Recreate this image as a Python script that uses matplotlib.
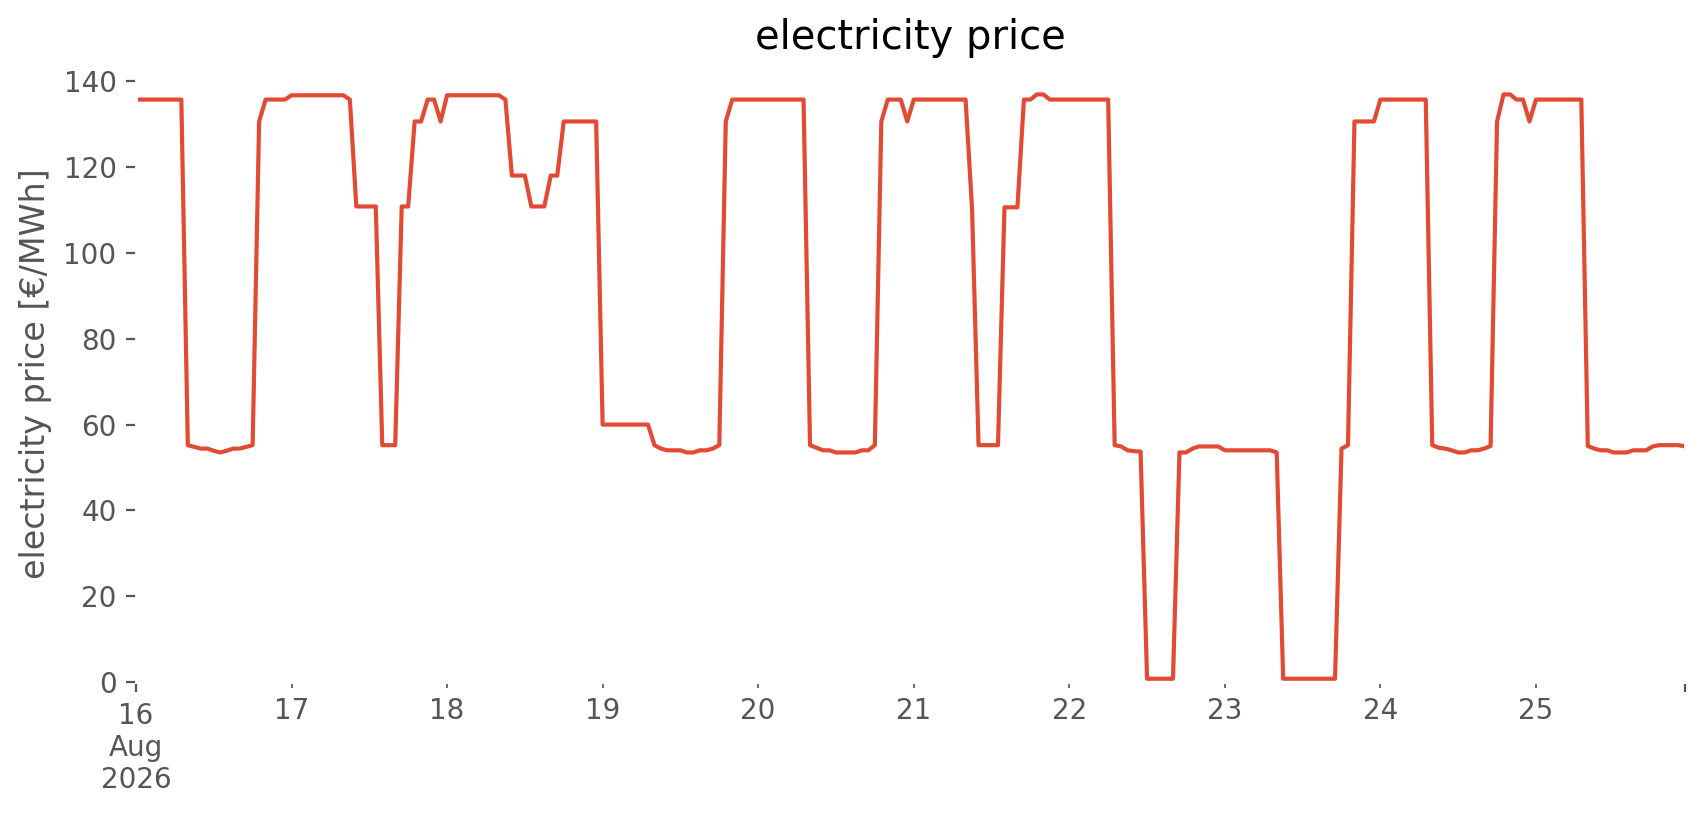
import matplotlib
matplotlib.use('Agg')
import matplotlib.pyplot as plt
import pandas as pd

plt.style.use('ggplot')

# hourly prices in €/MWh, one list per day (16 Aug .. 25 Aug 2026)
day16 = [135.7, 135.7, 135.7, 135.7, 135.7, 135.7, 135.7, 135.7, 55.2, 54.8, 54.4, 54.4,
         53.9, 53.5, 53.9, 54.4, 54.4, 54.8, 55.2, 130.6, 135.7, 135.7, 135.7, 135.7]
day17 = [136.7, 136.7, 136.7, 136.7, 136.7, 136.7, 136.7, 136.7, 136.7, 135.7, 110.8, 110.8,
         110.8, 110.8, 55.2, 55.2, 55.2, 110.8, 110.8, 130.6, 130.6, 135.7, 135.7, 130.6]
day18 = [136.7, 136.7, 136.7, 136.7, 136.7, 136.7, 136.7, 136.7, 136.7, 135.7, 118.0, 118.0,
         118.0, 110.8, 110.8, 110.8, 118.0, 118.0, 130.6, 130.6, 130.6, 130.6, 130.6, 130.6]
day19 = [60.0, 60.0, 60.0, 60.0, 60.0, 60.0, 60.0, 60.0, 55.2, 54.4, 54.0, 54.0,
         54.0, 53.5, 53.5, 54.0, 54.0, 54.4, 55.2, 130.6, 135.7, 135.7, 135.7, 135.7]
day20 = [135.7, 135.7, 135.7, 135.7, 135.7, 135.7, 135.7, 135.7, 55.2, 54.6, 54.0, 54.0,
         53.5, 53.5, 53.5, 53.5, 54.0, 54.0, 55.2, 130.6, 135.7, 135.7, 135.7, 130.6]
day21 = [135.7, 135.7, 135.7, 135.7, 135.7, 135.7, 135.7, 135.7, 135.7, 110.2, 55.2, 55.2,
         55.2, 55.2, 110.6, 110.6, 110.6, 135.7, 135.7, 136.9, 136.9, 135.7, 135.7, 135.7]
day22 = [135.7, 135.7, 135.7, 135.7, 135.7, 135.7, 135.7, 55.2, 54.9, 54.0, 53.8, 53.7,
         0.8, 0.8, 0.8, 0.8, 0.8, 53.5, 53.5, 54.4, 54.9, 54.9, 54.9, 54.9]
day23 = [54.0, 54.0, 54.0, 54.0, 54.0, 54.0, 54.0, 54.0, 53.5, 0.8, 0.8, 0.8,
         0.8, 0.8, 0.8, 0.8, 0.8, 0.8, 54.4, 55.2, 130.6, 130.6, 130.6, 130.6]
day24 = [135.7, 135.7, 135.7, 135.7, 135.7, 135.7, 135.7, 135.7, 55.2, 54.6, 54.4, 54.0,
         53.5, 53.5, 54.0, 54.0, 54.4, 55.0, 130.6, 136.9, 136.9, 135.7, 135.7, 130.6]
day25 = [135.7, 135.7, 135.7, 135.7, 135.7, 135.7, 135.7, 135.7, 55.0, 54.4, 54.0, 54.0,
         53.5, 53.5, 53.5, 54.0, 54.0, 54.0, 54.9, 55.2, 55.2, 55.2, 55.2, 54.9]

prices = day16 + day17 + day18 + day19 + day20 + day21 + day22 + day23 + day24 + day25
index = pd.date_range('2026-08-16 00:00', periods=len(prices), freq='h')
price = pd.Series(prices, index=index)

fig, ax = plt.subplots(figsize=(1706 / 200, 815 / 200), dpi=200)
fig.subplots_adjust(left=0.0797, right=0.9877, bottom=0.163, top=0.920)

price.plot(ax=ax, color='#E24A33', linewidth=1.5)

ax.set_facecolor('white')
ax.grid(False)
ax.set_ylim(bottom=0)
ax.set_title('electricity price')
ax.set_ylabel('electricity price [€/MWh]')
ax.set_xlabel('')

fig.savefig('out.png', dpi=200, facecolor='white')
